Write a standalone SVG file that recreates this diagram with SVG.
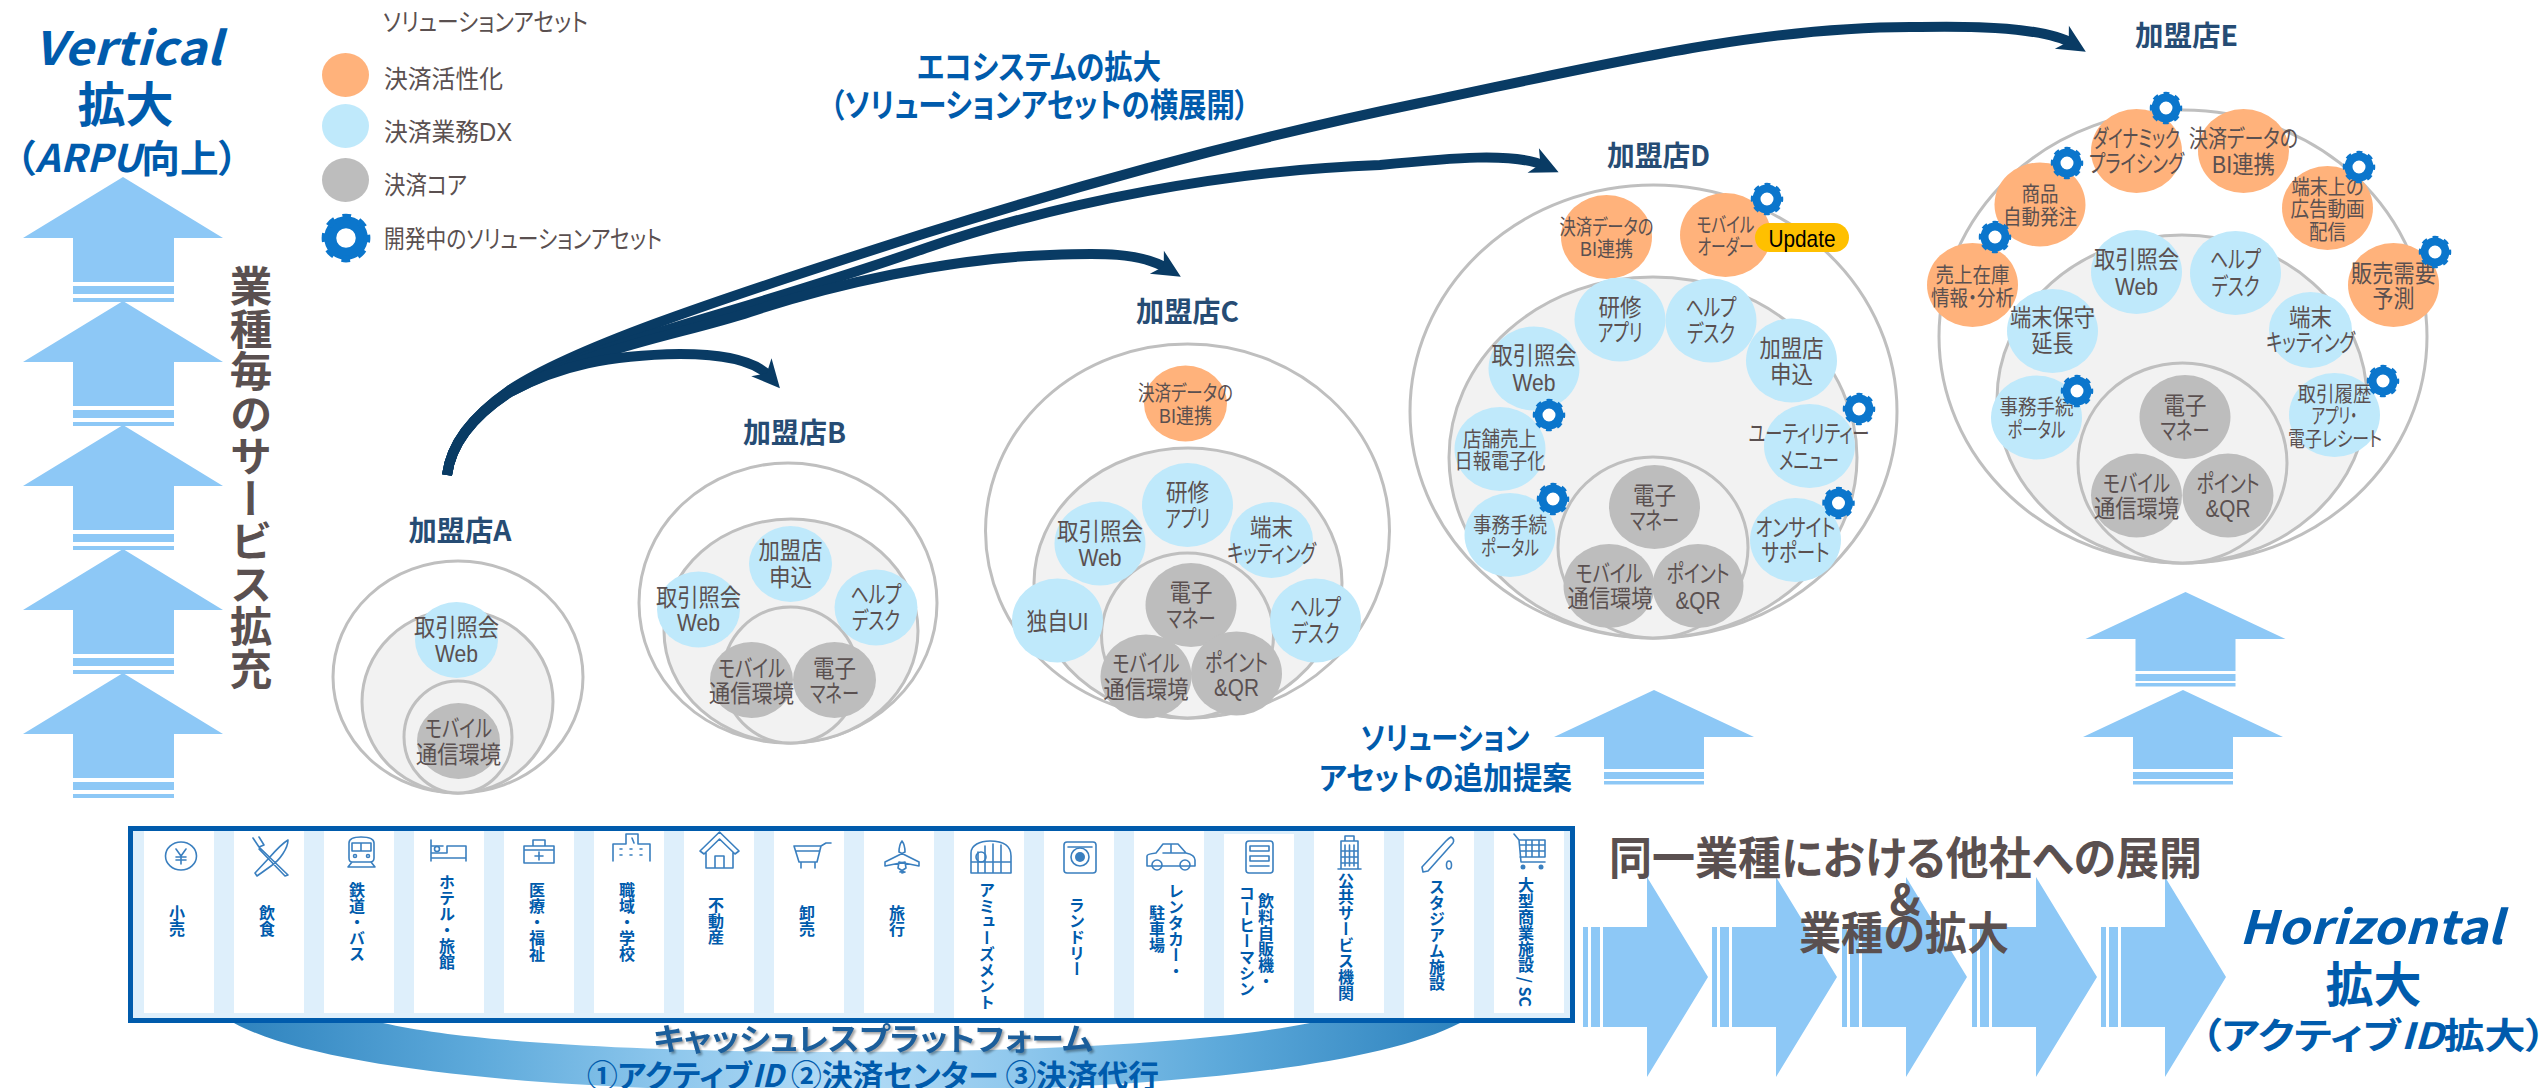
<svg xmlns="http://www.w3.org/2000/svg" width="2547" height="1088" viewBox="0 0 2547 1088">
<style>
text{font-family:"Liberation Sans","Noto Sans CJK JP",sans-serif;font-feature-settings:"palt";text-anchor:middle;dominant-baseline:central;fill:#5A5050}
.l{font-size:24px}.s{font-size:21px}
.t{font-size:28px;font-weight:700;fill:#264C74;font-family:"Noto Sans CJK JP",sans-serif}
.lg{font-size:25px;text-anchor:start}
.b{font-family:"Noto Sans CJK JP",sans-serif;font-weight:700;fill:#005BAC}
.g{font-family:"Noto Sans CJK JP",sans-serif;font-weight:700;fill:#5A5050}
.v{writing-mode:vertical-rl;text-anchor:start;font-size:16px;font-family:"Noto Sans CJK JP",sans-serif;font-weight:700;fill:#005BAC;font-feature-settings:normal;dominant-baseline:auto}
.o{fill:#FFB27B}.c{fill:#BFE9FB}.k{fill:#BDBDBD}
.r{fill:#F2F2F2;stroke:#BFBFBF;stroke-width:3}.w{fill:none;stroke:#BFBFBF;stroke-width:3}
.a{fill:#8DC8F6}
.cn{fill:none;stroke:#093B64;stroke-width:10;marker-end:url(#head)}
.ic{fill:none;stroke:#3A7FBF;stroke-width:1.6;stroke-linejoin:round;stroke-linecap:round}
.col{fill:#fff}
</style>
<defs>
<marker id="head" markerUnits="userSpaceOnUse" markerWidth="34" markerHeight="32" refX="13" refY="14" orient="auto" overflow="visible"><path d="M0,0.5 L28,14 L0,27.5 L8,14 Z" fill="#093B64"/></marker>
<g id="gear"><circle r="6.5" fill="#fff"/><circle r="10.5" fill="none" stroke="#0B76CC" stroke-width="8"/><circle r="14" fill="none" stroke="#0B76CC" stroke-width="4.5" stroke-dasharray="5.5 5.5" stroke-dashoffset="2.75"/></g>
<g id="upA"><path class="a" d="M0,0 L100,61 L51,61 L51,105 L-50,105 L-50,61 L-100,61 Z"/><rect class="a" x="-50" y="109" width="101" height="8"/><rect class="a" x="-50" y="121" width="101" height="4"/></g>
<g id="upB"><path class="a" d="M0,0 L100,47 L50,47 L50,79 L-50,79 L-50,47 L-100,47 Z"/><rect class="a" x="-50" y="82" width="100" height="7"/><rect class="a" x="-50" y="91" width="100" height="3.5"/></g>
<g id="rtA"><path class="a" d="M0,-100 L61,0 L0,100 L0,50 L-44,50 L-44,-50 L0,-50 Z"/><rect class="a" x="-56" y="-50" width="9" height="100"/><rect class="a" x="-64" y="-50" width="5" height="100"/></g>
<linearGradient id="sw" x1="0" x2="1" y1="0" y2="0"><stop offset="0" stop-color="#2E83BE"/><stop offset=".2" stop-color="#5EAADB"/><stop offset=".35" stop-color="#8CC6EC"/><stop offset=".5" stop-color="#B4DCF6"/><stop offset=".65" stop-color="#8CC6EC"/><stop offset=".8" stop-color="#5EAADB"/><stop offset="1" stop-color="#2E83BE"/></linearGradient>
</defs>

<g id="vertical-arrows">
<use href="#upA" x="123" y="177"/><use href="#upA" x="123" y="301"/><use href="#upA" x="123" y="425"/><use href="#upA" x="123" y="549"/><use href="#upA" x="123" y="673"/>
</g>
<g id="vertical-label">
<text class="b" x="128" y="45" font-size="46" font-style="italic" textLength="188" lengthAdjust="spacingAndGlyphs">Vertical</text>
<text class="b" x="125.500" y="101" font-size="48">拡大</text>
<text class="b" x="127" y="155" font-size="38" textLength="222" lengthAdjust="spacingAndGlyphs">（<tspan font-style="italic">ARPU</tspan>向上）</text>
<text x="251" y="265" style="writing-mode:vertical-rl;text-anchor:start;font-size:42.500px;font-weight:700;font-family:'Noto Sans CJK JP',sans-serif;font-feature-settings:normal;dominant-baseline:auto">業種毎のサービス拡充</text>
</g>

<g id="legend">
<text class="lg" x="383" y="22" textLength="205" lengthAdjust="spacingAndGlyphs">ソリューションアセット</text>
<ellipse class="o" cx="345.500" cy="75" rx="23.500" ry="22"/><text class="lg" x="384" y="79" textLength="119" lengthAdjust="spacingAndGlyphs">決済活性化</text>
<ellipse class="c" cx="345.500" cy="126" rx="23.500" ry="22"/><text class="lg" x="384" y="132" textLength="128" lengthAdjust="spacingAndGlyphs">決済業務DX</text>
<ellipse class="k" cx="345.500" cy="180" rx="23.500" ry="22"/><text class="lg" x="384" y="185" textLength="83" lengthAdjust="spacingAndGlyphs">決済コア</text>
<use href="#gear" transform="translate(346,238) scale(1.5)"/><text class="lg" x="384" y="239" textLength="278" lengthAdjust="spacingAndGlyphs">開発中のソリューションアセット</text>
</g>

<g id="ecosystem-label">
<text class="b" x="1039" y="65" font-size="33" textLength="244" lengthAdjust="spacingAndGlyphs">エコシステムの拡大</text>
<text class="b" x="1039.500" y="103" font-size="33" textLength="419" lengthAdjust="spacingAndGlyphs">（ソリューションアセットの横展開）</text>
</g>

<g id="merchant-a">
<text class="t" x="460" y="529" textLength="103" lengthAdjust="spacingAndGlyphs">加盟店A</text>
<ellipse class="w" cx="458" cy="677" rx="125" ry="116"/>
<ellipse class="r" cx="457.500" cy="701.500" rx="95.500" ry="91.500"/>
<ellipse class="r" cx="458" cy="737" rx="54" ry="56"/>
<ellipse class="c" cx="456.500" cy="640" rx="41.500" ry="38"/>
<ellipse class="k" cx="458.500" cy="741" rx="41.500" ry="38"/>
<text class="l" x="456.500" y="627" textLength="85" lengthAdjust="spacingAndGlyphs">取引照会</text><text class="l" x="456.500" y="653" textLength="43" lengthAdjust="spacingAndGlyphs">Web</text>
<text class="l" x="458.500" y="728" textLength="67" lengthAdjust="spacingAndGlyphs">モバイル</text><text class="l" x="458.500" y="754" textLength="85" lengthAdjust="spacingAndGlyphs">通信環境</text>
</g>

<g id="merchant-b">
<text class="t" x="794.500" y="431" textLength="103" lengthAdjust="spacingAndGlyphs">加盟店B</text>
<ellipse class="w" cx="788" cy="603" rx="149" ry="140"/>
<ellipse class="r" cx="791" cy="631" rx="127" ry="112"/>
<ellipse class="r" cx="790.500" cy="675" rx="67.500" ry="68"/>
<ellipse class="c" cx="790.500" cy="564" rx="41.500" ry="38"/>
<ellipse class="c" cx="698.500" cy="609.500" rx="41.500" ry="38"/>
<ellipse class="c" cx="876" cy="607.500" rx="41.500" ry="38"/>
<ellipse class="k" cx="751.500" cy="680" rx="41.500" ry="38"/>
<ellipse class="k" cx="834.500" cy="680" rx="41.500" ry="38"/>
<text class="l" x="790.500" y="550" textLength="64" lengthAdjust="spacingAndGlyphs">加盟店</text><text class="l" x="790.500" y="577" textLength="43" lengthAdjust="spacingAndGlyphs">申込</text>
<text class="l" x="698.500" y="597" textLength="85" lengthAdjust="spacingAndGlyphs">取引照会</text><text class="l" x="698.500" y="622" textLength="43" lengthAdjust="spacingAndGlyphs">Web</text>
<text class="l" x="876" y="594" textLength="51" lengthAdjust="spacingAndGlyphs">ヘルプ</text><text class="l" x="876" y="620" textLength="48" lengthAdjust="spacingAndGlyphs">デスク</text>
<text class="l" x="751.500" y="668" textLength="67" lengthAdjust="spacingAndGlyphs">モバイル</text><text class="l" x="751.500" y="693" textLength="85" lengthAdjust="spacingAndGlyphs">通信環境</text>
<text class="l" x="834.500" y="668" textLength="43" lengthAdjust="spacingAndGlyphs">電子</text><text class="l" x="834.500" y="693" textLength="49" lengthAdjust="spacingAndGlyphs">マネー</text>
</g>

<g id="merchant-c">
<text class="t" x="1187.500" y="310" textLength="103" lengthAdjust="spacingAndGlyphs">加盟店C</text>
<ellipse class="w" cx="1187.500" cy="531" rx="202" ry="187"/>
<ellipse class="r" cx="1188" cy="583" rx="154" ry="135"/>
<ellipse class="r" cx="1187.500" cy="635.500" rx="86" ry="82.500"/>
<ellipse class="o" cx="1185.500" cy="403.500" rx="41.500" ry="38"/>
<ellipse class="c" cx="1187.500" cy="505" rx="45.500" ry="42"/>
<ellipse class="c" cx="1100" cy="543.500" rx="45.500" ry="42"/>
<ellipse class="c" cx="1271.500" cy="540" rx="41.500" ry="38"/>
<ellipse class="c" cx="1057.500" cy="620.500" rx="45.500" ry="42"/>
<ellipse class="c" cx="1315.500" cy="620.500" rx="45.500" ry="42"/>
<ellipse class="k" cx="1191" cy="605" rx="45.500" ry="42"/>
<ellipse class="k" cx="1146" cy="676.500" rx="45.500" ry="42"/>
<ellipse class="k" cx="1236.500" cy="673.500" rx="45.500" ry="42"/>
<text class="s" x="1185.500" y="392" textLength="95" lengthAdjust="spacingAndGlyphs">決済データの</text><text class="s" x="1185.500" y="415" textLength="53" lengthAdjust="spacingAndGlyphs">BI連携</text>
<text class="l" x="1187.500" y="492" textLength="43" lengthAdjust="spacingAndGlyphs">研修</text><text class="l" x="1187.500" y="518" textLength="45" lengthAdjust="spacingAndGlyphs">アプリ</text>
<text class="l" x="1100" y="531" textLength="86" lengthAdjust="spacingAndGlyphs">取引照会</text><text class="l" x="1100" y="557" textLength="43" lengthAdjust="spacingAndGlyphs">Web</text>
<text class="l" x="1271.500" y="527" textLength="43" lengthAdjust="spacingAndGlyphs">端末</text><text class="l" x="1271.500" y="553" textLength="89" lengthAdjust="spacingAndGlyphs">キッティング</text>
<text class="l" x="1057.500" y="621" textLength="62" lengthAdjust="spacingAndGlyphs">独自UI</text>
<text class="l" x="1315.500" y="607" textLength="51" lengthAdjust="spacingAndGlyphs">ヘルプ</text><text class="l" x="1315.500" y="633" textLength="48" lengthAdjust="spacingAndGlyphs">デスク</text>
<text class="l" x="1191" y="592" textLength="43" lengthAdjust="spacingAndGlyphs">電子</text><text class="l" x="1191" y="618" textLength="49" lengthAdjust="spacingAndGlyphs">マネー</text>
<text class="l" x="1146" y="663" textLength="67" lengthAdjust="spacingAndGlyphs">モバイル</text><text class="l" x="1146" y="689" textLength="85" lengthAdjust="spacingAndGlyphs">通信環境</text>
<text class="l" x="1236.500" y="662" textLength="63" lengthAdjust="spacingAndGlyphs">ポイント</text><text class="l" x="1236.500" y="687" textLength="45" lengthAdjust="spacingAndGlyphs">&amp;QR</text>
</g>

<g id="merchant-d">
<text class="t" x="1658.500" y="154" textLength="103" lengthAdjust="spacingAndGlyphs">加盟店D</text>
<ellipse class="w" cx="1653.500" cy="411.500" rx="243.500" ry="226.500"/>
<ellipse class="r" cx="1653" cy="457.500" rx="204" ry="180.500"/>
<ellipse class="r" cx="1653" cy="547.500" rx="95" ry="90.500"/>
<ellipse class="o" cx="1606.500" cy="237" rx="45.500" ry="42"/>
<ellipse class="o" cx="1725.500" cy="235" rx="45.500" ry="42"/>
<ellipse class="c" cx="1620" cy="319.500" rx="45.500" ry="42"/>
<ellipse class="c" cx="1711" cy="320.500" rx="45.500" ry="42"/>
<ellipse class="c" cx="1791.500" cy="360.500" rx="45.500" ry="42"/>
<ellipse class="c" cx="1534" cy="368.500" rx="45.500" ry="42"/>
<ellipse class="c" cx="1500" cy="449" rx="45.500" ry="42"/>
<ellipse class="c" cx="1809.500" cy="446" rx="45.500" ry="42"/>
<ellipse class="c" cx="1510" cy="535" rx="45.500" ry="42"/>
<ellipse class="c" cx="1795.500" cy="540" rx="45.500" ry="42"/>
<ellipse class="k" cx="1654.500" cy="507" rx="45.500" ry="42"/>
<ellipse class="k" cx="1609" cy="586" rx="45.500" ry="42"/>
<ellipse class="k" cx="1698" cy="586" rx="45.500" ry="42"/>
<text class="s" x="1606.500" y="226" textLength="94" lengthAdjust="spacingAndGlyphs">決済データの</text><text class="s" x="1606.500" y="248" textLength="53" lengthAdjust="spacingAndGlyphs">BI連携</text>
<text class="s" x="1725.500" y="224" textLength="58" lengthAdjust="spacingAndGlyphs">モバイル</text><text class="s" x="1725.500" y="246" textLength="56" lengthAdjust="spacingAndGlyphs">オーダー</text>
<text class="l" x="1620" y="307" textLength="43" lengthAdjust="spacingAndGlyphs">研修</text><text class="l" x="1620" y="332" textLength="45" lengthAdjust="spacingAndGlyphs">アプリ</text>
<text class="l" x="1711" y="307" textLength="51" lengthAdjust="spacingAndGlyphs">ヘルプ</text><text class="l" x="1711" y="333" textLength="48" lengthAdjust="spacingAndGlyphs">デスク</text>
<text class="l" x="1791.500" y="348" textLength="64" lengthAdjust="spacingAndGlyphs">加盟店</text><text class="l" x="1791.500" y="374" textLength="43" lengthAdjust="spacingAndGlyphs">申込</text>
<text class="l" x="1534" y="355" textLength="85" lengthAdjust="spacingAndGlyphs">取引照会</text><text class="l" x="1534" y="382" textLength="43" lengthAdjust="spacingAndGlyphs">Web</text>
<text class="s" x="1500" y="438" textLength="74" lengthAdjust="spacingAndGlyphs">店舗売上</text><text class="s" x="1500" y="460" textLength="91" lengthAdjust="spacingAndGlyphs">日報電子化</text>
<text class="l" x="1809" y="433" textLength="121" lengthAdjust="spacingAndGlyphs">ユーティリティー</text><text class="l" x="1809" y="460" textLength="60" lengthAdjust="spacingAndGlyphs">メニュー</text>
<text class="s" x="1510" y="524" textLength="74" lengthAdjust="spacingAndGlyphs">事務手続</text><text class="s" x="1510" y="547" textLength="58" lengthAdjust="spacingAndGlyphs">ポータル</text>
<text class="l" x="1795.500" y="527" textLength="80" lengthAdjust="spacingAndGlyphs">オンサイト</text><text class="l" x="1795.500" y="552" textLength="68" lengthAdjust="spacingAndGlyphs">サポート</text>
<text class="l" x="1654.500" y="495" textLength="43" lengthAdjust="spacingAndGlyphs">電子</text><text class="l" x="1654.500" y="520" textLength="49" lengthAdjust="spacingAndGlyphs">マネー</text>
<text class="l" x="1609" y="573" textLength="67" lengthAdjust="spacingAndGlyphs">モバイル</text><text class="l" x="1610" y="598" textLength="85" lengthAdjust="spacingAndGlyphs">通信環境</text>
<text class="l" x="1698" y="573" textLength="63" lengthAdjust="spacingAndGlyphs">ポイント</text><text class="l" x="1698" y="600" textLength="45" lengthAdjust="spacingAndGlyphs">&amp;QR</text>
<rect x="1755" y="223" width="94" height="29" rx="14.500" fill="#FFC000"/>
<text x="1802" y="238" font-size="24" style="fill:#000" textLength="67" lengthAdjust="spacingAndGlyphs">Update</text>
<use href="#gear" x="1767" y="199"/><use href="#gear" x="1549" y="415"/><use href="#gear" x="1859" y="409"/><use href="#gear" x="1553" y="499"/><use href="#gear" x="1838.500" y="503"/>
</g>

<g id="merchant-e">
<text class="t" x="2186.500" y="34" textLength="103" lengthAdjust="spacingAndGlyphs">加盟店E</text>
<ellipse class="w" cx="2183" cy="336.500" rx="244" ry="226.500"/>
<ellipse class="r" cx="2182" cy="399" rx="185" ry="164"/>
<ellipse class="r" cx="2182.500" cy="463" rx="104.500" ry="100"/>
<ellipse class="o" cx="2136.500" cy="151" rx="45.500" ry="42"/>
<ellipse class="o" cx="2243.500" cy="151" rx="45.500" ry="42"/>
<ellipse class="o" cx="2040" cy="204.500" rx="45.500" ry="42"/>
<ellipse class="o" cx="2327.500" cy="208" rx="45.500" ry="42"/>
<ellipse class="o" cx="1972.500" cy="285" rx="45.500" ry="42"/>
<ellipse class="o" cx="2393.500" cy="285" rx="45.500" ry="42"/>
<ellipse class="c" cx="2136.500" cy="272" rx="45.500" ry="42"/>
<ellipse class="c" cx="2235.500" cy="273" rx="45.500" ry="42"/>
<ellipse class="c" cx="2310.500" cy="330" rx="41.500" ry="38"/>
<ellipse class="c" cx="2052.500" cy="331" rx="45.500" ry="42"/>
<ellipse class="c" cx="2036.500" cy="417.500" rx="45.500" ry="42"/>
<ellipse class="c" cx="2334.500" cy="415" rx="45.500" ry="42"/>
<ellipse class="k" cx="2185" cy="417" rx="45.500" ry="42"/>
<ellipse class="k" cx="2136.500" cy="495.500" rx="45.500" ry="42"/>
<ellipse class="k" cx="2228" cy="495.500" rx="45.500" ry="42"/>
<text class="l" x="2136.500" y="138" textLength="87" lengthAdjust="spacingAndGlyphs">ダイナミック</text><text class="l" x="2136.500" y="163" textLength="95" lengthAdjust="spacingAndGlyphs">プライシング</text>
<text class="l" x="2243.500" y="138" textLength="109" lengthAdjust="spacingAndGlyphs">決済データの</text><text class="l" x="2243.500" y="164" textLength="63" lengthAdjust="spacingAndGlyphs">BI連携</text>
<text class="s" x="2040" y="193" textLength="37" lengthAdjust="spacingAndGlyphs">商品</text><text class="s" x="2040" y="216" textLength="74" lengthAdjust="spacingAndGlyphs">自動発注</text>
<text class="s" x="2327.500" y="186" textLength="72" lengthAdjust="spacingAndGlyphs">端末上の</text><text class="s" x="2327.500" y="208" textLength="74" lengthAdjust="spacingAndGlyphs">広告動画</text><text class="s" x="2327.500" y="231" textLength="37" lengthAdjust="spacingAndGlyphs">配信</text>
<text class="s" x="1972.500" y="274" textLength="74" lengthAdjust="spacingAndGlyphs">売上在庫</text><text class="s" x="1972.500" y="297" textLength="83" lengthAdjust="spacingAndGlyphs">情報・分析</text>
<text class="l" x="2393.500" y="273" textLength="85" lengthAdjust="spacingAndGlyphs">販売需要</text><text class="l" x="2393.500" y="298" textLength="42" lengthAdjust="spacingAndGlyphs">予測</text>
<text class="l" x="2136.500" y="259" textLength="85" lengthAdjust="spacingAndGlyphs">取引照会</text><text class="l" x="2136.500" y="286" textLength="43" lengthAdjust="spacingAndGlyphs">Web</text>
<text class="l" x="2235.500" y="259" textLength="51" lengthAdjust="spacingAndGlyphs">ヘルプ</text><text class="l" x="2235.500" y="286" textLength="48" lengthAdjust="spacingAndGlyphs">デスク</text>
<text class="l" x="2310.500" y="317" textLength="43" lengthAdjust="spacingAndGlyphs">端末</text><text class="l" x="2310.500" y="342" textLength="89" lengthAdjust="spacingAndGlyphs">キッティング</text>
<text class="l" x="2052.500" y="317" textLength="85" lengthAdjust="spacingAndGlyphs">端末保守</text><text class="l" x="2052.500" y="343" textLength="42" lengthAdjust="spacingAndGlyphs">延長</text>
<text class="s" x="2036.500" y="406" textLength="74" lengthAdjust="spacingAndGlyphs">事務手続</text><text class="s" x="2036.500" y="429" textLength="58" lengthAdjust="spacingAndGlyphs">ポータル</text>
<text class="s" x="2334.500" y="393" textLength="74" lengthAdjust="spacingAndGlyphs">取引履歴</text><text class="s" x="2334.500" y="415" textLength="46" lengthAdjust="spacingAndGlyphs">アプリ・</text><text class="s" x="2335" y="438" textLength="94" lengthAdjust="spacingAndGlyphs">電子レシート</text>
<text class="l" x="2185" y="405" textLength="43" lengthAdjust="spacingAndGlyphs">電子</text><text class="l" x="2185" y="430" textLength="49" lengthAdjust="spacingAndGlyphs">マネー</text>
<text class="l" x="2136.500" y="483" textLength="67" lengthAdjust="spacingAndGlyphs">モバイル</text><text class="l" x="2136.500" y="508" textLength="85" lengthAdjust="spacingAndGlyphs">通信環境</text>
<text class="l" x="2228" y="483" textLength="63" lengthAdjust="spacingAndGlyphs">ポイント</text><text class="l" x="2228" y="508" textLength="45" lengthAdjust="spacingAndGlyphs">&amp;QR</text>
<use href="#gear" x="2166" y="108"/><use href="#gear" x="2067" y="163"/><use href="#gear" x="1995" y="237"/><use href="#gear" x="2359" y="167"/><use href="#gear" x="2435" y="252"/><use href="#gear" x="2383" y="381"/><use href="#gear" x="2077" y="391"/>
</g>

<g id="connectors">
<path class="cn" d="M447,475 C451,445 470,418 510,390 C570,350 700,305 926,233 C1060,191 1240,140 1420,103 C1580,70 1760,25 1920,27 C1975,26 2045,27 2073,44"/>
<path class="cn" d="M447,475 C451,445 470,418 510,390 C600,340 720,320 926,248 C1060,202 1230,170 1380,165 C1450,158 1515,152 1545,166"/>
<path class="cn" d="M447,475 C451,445 470,418 510,392 C600,345 680,335 750,312 C830,285 950,258 1050,255 C1100,253 1140,252 1168,269"/>
<path class="cn" d="M447,475 C451,445 470,418 510,392 C560,365 610,355 680,354 C720,354 755,360 770,377"/>
</g>

<g id="solution-arrows">
<use href="#upB" x="1654" y="690"/><use href="#upB" x="2185.500" y="592"/><use href="#upB" x="2183" y="690"/>
<text class="b" x="1445" y="735" font-size="31" textLength="169" lengthAdjust="spacingAndGlyphs">ソリューション</text>
<text class="b" x="1445.500" y="775" font-size="31" textLength="253" lengthAdjust="spacingAndGlyphs">アセットの追加提案</text>
</g>

<g id="platform">
<path fill="url(#sw)" d="M234,1023 C330,1075 600,1092 847,1092 C1090,1092 1360,1075 1460,1023 L1310,1023 C1200,1045 1000,1052 847,1052 C680,1052 480,1045 383,1023 Z"/>
<rect x="130.500" y="828.500" width="1442" height="192" fill="#DEEFFB" stroke="#005BAC" stroke-width="5"/>
<g id="columns">
<rect class="col" x="144" y="831" width="70" height="182"/><rect class="col" x="234" y="831" width="70" height="182"/><rect class="col" x="324" y="831" width="70" height="182"/><rect class="col" x="414" y="831" width="70" height="182"/><rect class="col" x="504" y="831" width="70" height="182"/><rect class="col" x="594" y="831" width="70" height="182"/><rect class="col" x="684" y="831" width="70" height="182"/><rect class="col" x="774" y="831" width="70" height="182"/><rect class="col" x="864" y="831" width="70" height="182"/><rect class="col" x="954" y="831" width="70" height="187"/><rect class="col" x="1044" y="831" width="70" height="187"/><rect class="col" x="1134" y="831" width="70" height="187"/><rect class="col" x="1224" y="834" width="70" height="184"/><rect class="col" x="1314" y="831" width="70" height="182"/><rect class="col" x="1404" y="831" width="70" height="187"/><rect class="col" x="1494" y="831" width="70" height="182"/>
</g>
<g id="icons">
<ellipse class="ic" cx="181" cy="856" rx="15.500" ry="14"/><path class="ic" d="M176,849 L181,856 L186,849 M181,856 V864 M176,857 H186 M176,860 H186"/>
<path class="ic" d="M253,838 L259,847 L264,845 L259,837 M259,847 L288,875 L285,876 L259,849 M288,840 C288,848 280,860 271,866 L257,876 L255,873 L269,858 C276,850 283,843 288,840 Z"/>
<path class="ic" d="M349,843 Q349,837 361,837 Q374,837 374,843 V858 Q374,862 370,862 H352 Q349,862 349,858 Z M352,843 H371 V851 H352 Z M361,843 V851 M352,862 L348,867 H375 L371,862"/><circle class="ic" cx="355" cy="856" r="1.500"/><circle class="ic" cx="368" cy="856" r="1.500"/>
<path class="ic" d="M431,840 V861 M431,858 H466 V861 M447,846 H466 V858 M431,853 H447 V846 M431,846 H443"/><circle class="ic" cx="437" cy="849" r="2.500"/>
<path class="ic" d="M524,846 H554 V863 H524 Z M533,846 V840 H545 V846 M524,850 H554 M539,852 V860 M535,856 H543"/>
<path class="ic" d="M613,861 V844 H626 V834 H638 V844 H650 V861 M620,849 h2 M630,849 h2 M640,849 h2 M620,855 h2 M630,855 h2 M640,855 h2 M632,838 L634,843"/>
<path class="ic" d="M700,851 L719.500,832 L739,851 L735,854 L719.500,839 L704,854 Z M706,852 V868 H733 V852 M715,868 V856 H724 V868"/>
<path class="ic" d="M794,846 H821 L826,843 H831 M794,846 L799,862 H817 L821,846 M796,851 H820 M801,862 V868 M815,862 V868"/>
<path class="ic" d="M902,841 Q905,845 905,852 L885,862 V866 L905,862 L906,868 L900,872 H905 L902,873 M902,841 Q899,845 899,852 L919,862 V866 L899,862 L898,868 L904,872"/>
<path class="ic" d="M971,873 V853 C971,845 980,841 990,841 C1004,841 1011,846 1011,856 V873 Z M978,873 V852 M985,873 V846 M993,873 V844 M1001,873 V845 M971,862 H1011"/><circle class="ic" cx="981" cy="857" r="5"/>
<rect class="ic" x="1064" y="842" width="32" height="31" rx="3"/><circle class="ic" cx="1080" cy="857" r="9"/><circle cx="1080" cy="857" r="5" fill="#3A7FBF"/><path class="ic" d="M1068,847 H1092"/>
<path class="ic" d="M1147,866 V856 Q1147,854 1156,853 L1163,844 H1178 L1186,853 Q1195,855 1195,860 V866 Z M1163,853 H1186 M1171,844 V853"/><circle class="ic" cx="1157" cy="865" r="5" fill="#fff"/><circle class="ic" cx="1185" cy="865" r="5" fill="#fff"/>
<rect class="ic" x="1246" y="841" width="27" height="32" rx="3" stroke-width="2.400"/><path class="ic" d="M1250,846 H1269 V851 H1250 Z M1250,856 H1269 V861 H1250 Z M1250,866 H1269"/>
<path class="ic" d="M1338,869 H1361 M1341,869 V841 H1358 V869 M1345,841 V836 H1354 V841 M1345,845 V866 M1349.500,845 V866 M1354,845 V866 M1341,851 H1358 M1341,857 H1358 M1341,863 H1358"/>
<path class="ic" d="M1451,837 Q1455,839 1453,843 L1428,871 L1423,872 L1422,867 L1446,841 Q1449,838 1451,837 Z"/><ellipse class="ic" cx="1449" cy="865" rx="2.500" ry="4"/>
<path class="ic" stroke-width="2.200" d="M1514,834 L1519,840 L1521,862 H1545 M1519,840 H1545 V857 H1520 M1526,840 V857 M1532,840 V857 M1539,840 V857 M1520,845 H1545 M1520,851 H1545"/><circle cx="1523" cy="867" r="2.500" fill="#3A7FBF"/><circle cx="1541" cy="867" r="2.500" fill="#3A7FBF"/>
</g>
<g id="column-labels">
<text class="v" x="177" y="905">小売</text><text class="v" x="267" y="905">飲食</text><text class="v" x="357" y="882">鉄道・バス</text><text class="v" x="447" y="874">ホテル・旅館</text><text class="v" x="537" y="882">医療・福祉</text><text class="v" x="627" y="882">職域・学校</text><text class="v" x="716" y="897">不動産</text><text class="v" x="807" y="905">卸売</text><text class="v" x="897" y="905">旅行</text><text class="v" x="987" y="882">アミューズメント</text><text class="v" x="1077" y="897">ランドリー</text><text class="v" x="1176" y="883">レンタカー・</text><text class="v" x="1157" y="905">駐車場</text><text class="v" x="1266" y="893">飲料自販機・</text><text class="v" x="1247" y="885">コーヒーマシン</text><text class="v" x="1346" y="873">公共サービス機関</text><text class="v" x="1437" y="879">スタジアム施設</text><text class="v" x="1526" y="877">大型商業施設 / SC</text>
</g>
<text x="873" y="1036" font-size="31" style="font-family:'Noto Sans CJK JP',sans-serif;font-weight:700;fill:#1B5E9B;filter:drop-shadow(2px 2px 1px rgba(0,0,0,.35))" textLength="440" lengthAdjust="spacingAndGlyphs">キャッシュレスプラットフォーム</text>
<text class="b" x="873" y="1073" font-size="31" textLength="572" lengthAdjust="spacingAndGlyphs">①アクティブ<tspan font-style="italic">ID</tspan> ②決済センター ③決済代行</text>
</g>

<g id="horizontal-arrows">
<use href="#rtA" x="1647" y="977"/><use href="#rtA" x="1776" y="977"/><use href="#rtA" x="1906" y="977"/><use href="#rtA" x="2036" y="977"/><use href="#rtA" x="2165" y="977"/>
</g>
<g id="horizontal-label">
<text class="g" x="1905.500" y="855" font-size="45" textLength="593" lengthAdjust="spacingAndGlyphs">同一業種における他社への展開</text>
<text class="g" x="1905" y="896" font-size="42">&amp;</text>
<text class="g" x="1904" y="930" font-size="45" textLength="210" lengthAdjust="spacingAndGlyphs">業種の拡大</text>
<text class="b" x="2371" y="924" font-size="46" font-style="italic" textLength="264" lengthAdjust="spacingAndGlyphs">Horizontal</text>
<text class="b" x="2373.500" y="981" font-size="48">拡大</text>
<text class="b" x="2373.500" y="1033" font-size="36" textLength="345" lengthAdjust="spacingAndGlyphs">（アクティブ<tspan font-style="italic">ID</tspan>拡大）</text>
</g>
</svg>
